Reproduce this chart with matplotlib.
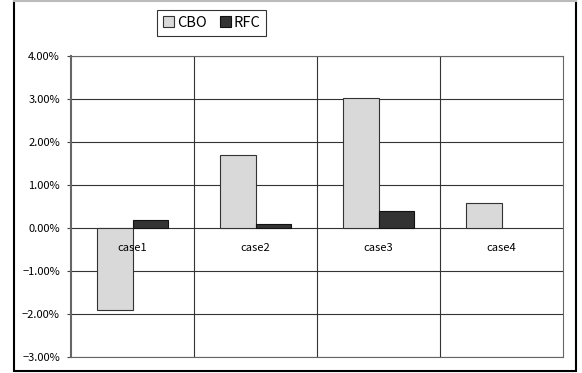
import matplotlib.pyplot as plt
import numpy as np
from matplotlib.patches import Rectangle
from matplotlib.ticker import FuncFormatter

categories = ['case1', 'case2', 'case3', 'case4']
cbo = [-1.91, 1.70, 3.03, 0.58]
rfc = [0.18, 0.10, 0.40, np.nan]   # no RFC bar for case4
yticks = [-3, -2, -1, 0, 1, 2, 3, 4]

plt.rcParams['font.family'] = ['Noto Sans CJK JP', 'DejaVu Sans']

fig = plt.figure(figsize=(5.82, 3.73), dpi=100)
ax = fig.add_axes([71/582, 1 - 357/373, (563-71)/582, (357-56)/373])

# outer frame of the chart area
fig.patches.append(Rectangle((14/582, 2/373), (576-14)/582, (373-2)/373,
                             transform=fig.transFigure, fill=False,
                             edgecolor='black', linewidth=1.5))
fig.add_artist(plt.Line2D([14/582, 576/582], [0.998, 0.998],
                          transform=fig.transFigure, color='#bbbbbb', linewidth=1.5))

x = np.arange(len(categories))
w = 0.29
ax.bar(x - w/2, cbo, w, color='#d9d9d9', edgecolor='#333333', linewidth=0.8,
       label='CBO', zorder=3)
ax.bar(x + w/2, rfc, w, color='#333333', edgecolor='#111111', linewidth=0.8,
       label='RFC', zorder=3)

ax.set_xlim(-0.5, len(categories) - 0.5)
ax.set_ylim(-3, 4)
ax.set_yticks(yticks)
ax.yaxis.set_major_formatter(FuncFormatter(lambda v, p: f'{v:.2f}%'.replace('-', '−')))
ax.tick_params(axis='y', labelsize=8, length=3, width=0.8, color='#444444', pad=5)
ax.set_xticks([])

for yv in yticks:
    ax.axhline(yv, color='#333333', linewidth=0.8, zorder=1)
for xv in np.arange(0.5, len(categories) - 0.5, 1):
    ax.axvline(xv, color='#333333', linewidth=0.8, zorder=1)

for i, c in enumerate(categories):
    ax.text(i, -0.47, c, ha='center', va='center', fontsize=8, zorder=4)

for s in ax.spines.values():
    s.set_color('#666666')
    s.set_linewidth(0.8)
ax.spines['left'].set_linewidth(1.5)

leg = ax.legend(loc='upper left', bbox_to_anchor=((157-71)/492, 1 + (56-10)/301),
                ncol=2, fontsize=10.5, frameon=True, fancybox=False,
                edgecolor='black', handlelength=0.75, handleheight=0.75,
                handletextpad=0.2, columnspacing=0.9, borderpad=0.4,
                borderaxespad=0)
leg.get_frame().set_linewidth(0.8)

fig.savefig('out.png', dpi=100)
